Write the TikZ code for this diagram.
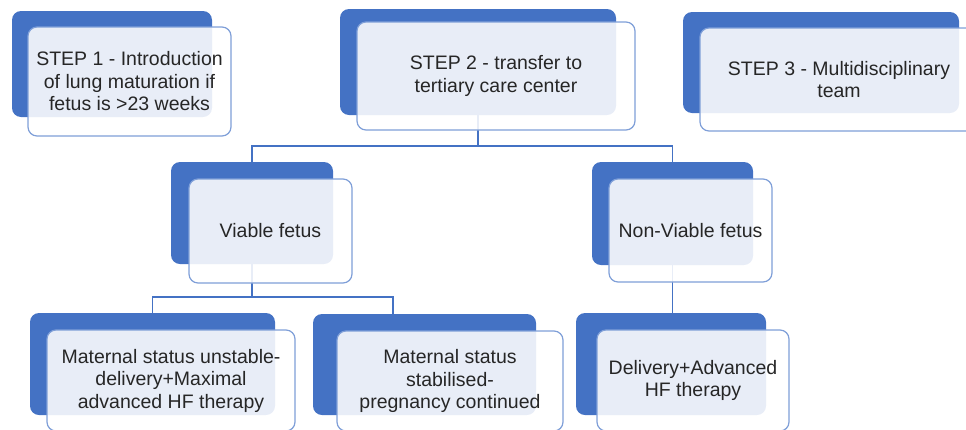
\documentclass[tikz,border=0pt]{standalone}
\usepackage{fontspec}
\setmainfont{Liberation Sans}
\usepackage{tikz}
\usetikzlibrary{positioning,calc}
\definecolor{Cobalt}{HTML}{4472C4}
\definecolor{SoftBlue}{HTML}{7F9FD8}
\definecolor{Ink}{HTML}{262626}
\tikzset{
  backbox/.style={fill=Cobalt, rounded corners=9pt, inner sep=0pt, outer sep=0pt},
  frontbox/.style={draw=SoftBlue, line width=1.2pt, fill=white, fill opacity=0.88, text opacity=1, text=Ink, rounded corners=9pt, align=center, inner sep=0pt, outer sep=0pt, font=\fontsize{19.5}{22.5}\selectfont},
  link/.style={draw=Cobalt, line width=1.6pt}
}

\begin{document}
\begin{tikzpicture}[x=1pt, y=-1pt]
  \useasboundingbox (0,0) rectangle (966,429);

  \node[backbox, minimum width=200pt, minimum height=106pt] (s1back) at (112,64) {};
  \node[backbox, minimum width=276pt, minimum height=106pt] (s2back) at (478,62) {};
  \node[backbox, minimum width=276pt, minimum height=101pt] (s3back) at (821,62.5) {};
  \node[backbox, minimum width=162pt, minimum height=102pt] (viableback) at (252,213) {};
  \node[backbox, minimum width=161pt, minimum height=103pt] (nonviableback) at (672.5,213.5) {};
  \node[backbox, minimum width=245pt, minimum height=102pt] (unstableback) at (152.5,364) {};
  \node[backbox, minimum width=223pt, minimum height=101pt] (stableback) at (424.5,364.5) {};
  \node[backbox, minimum width=190pt, minimum height=102pt] (deliveryback) at (671,364) {};

  \coordinate (bus1) at (478,146);
  \coordinate (bus2) at (252,297);
  \draw[link] (s2back.south) -- (bus1);
  \draw[link] (bus1) -| (viableback.north);
  \draw[link] (bus1) -| (nonviableback.north);
  \draw[link] (viableback.south) -- (bus2);
  \draw[link] (bus2) -| (unstableback.north);
  \draw[link] (bus2) -| ([xshift=-31.5pt]stableback.north);
  \draw[link] (nonviableback.south) -- (nonviableback.south |- deliveryback.north);

  \node[frontbox, minimum width=203pt, minimum height=109pt, below right=16pt and 16pt of s1back.north west] (s1) {STEP 1 - Introduction\\of lung maturation if\\fetus is >23 weeks};
  \node[frontbox, minimum width=278pt, minimum height=108pt, below right=13pt and 17pt of s2back.north west] (s2) {STEP 2 - transfer to\\tertiary care center};
  \node[frontbox, minimum width=278pt, minimum height=103pt, below right=16pt and 17pt of s3back.north west] (s3) {STEP 3 - Multidisciplinary\\team};
  \node[frontbox, minimum width=163pt, minimum height=104pt, below right=17pt and 18pt of viableback.north west] (viable) {Viable fetus};
  \node[frontbox, minimum width=163pt, minimum height=103pt, below right=17pt and 17pt of nonviableback.north west] (nonviable) {Non-Viable fetus};
  \node[frontbox, minimum width=248pt, minimum height=101pt, below right=17pt and 17pt of unstableback.north west] (unstable) {Maternal status unstable-\\delivery+Maximal\\advanced HF therapy};
  \node[frontbox, minimum width=226pt, minimum height=100pt, below right=17pt and 24pt of stableback.north west] (stable) {Maternal status\\stabilised-\\pregnancy continued};
  \node[frontbox, minimum width=192pt, minimum height=101pt, below right=17pt and 21pt of deliveryback.north west] (delivery) {Delivery+Advanced\\HF therapy};
\end{tikzpicture}
\end{document}
